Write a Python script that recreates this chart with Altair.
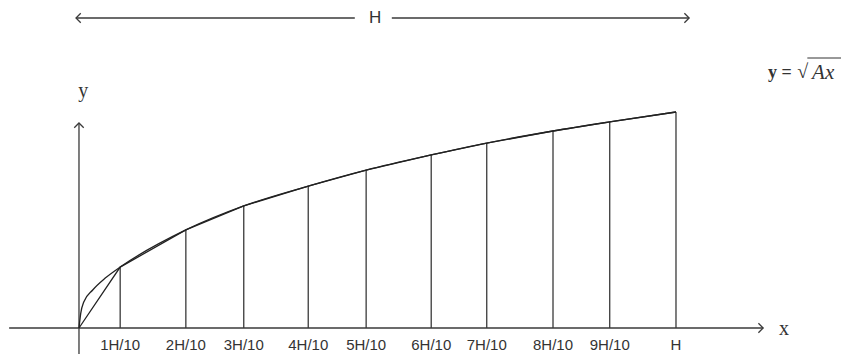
import altair as alt
import pandas as pd

# ---- values ----
labels = ["1H/10", "2H/10", "3H/10", "4H/10", "5H/10", "6H/10", "7H/10", "8H/10", "9H/10", "H"]
x_pos = [0.69, 1.79, 2.76, 3.84, 4.81, 5.90, 6.83, 7.94, 8.89, 10.0]
heights = [2.82, 4.54, 5.65, 6.57, 7.31, 8.01, 8.56, 9.12, 9.54, 10.0]
curve_x = [0.0, 0.03, 0.08, 0.23, 0.44]
curve_y = [0.0, 0.69, 1.20, 1.76, 2.31]

# ---- tables ----
cols = pd.DataFrame({"x": x_pos, "top": heights, "base": [0.0] * len(x_pos), "label": labels})
chords = pd.DataFrame({"x": [0.0] + x_pos, "y": [0.0] + heights})
curve = pd.DataFrame({"x": curve_x + x_pos, "y": curve_y + heights})

X = alt.Scale(domain=[-1.189, 12.764], nice=False, zero=False)
Y = alt.Scale(domain=[-1.204, 14.815], nice=False, zero=False)
INK = "#222222"
GREY = "#3a3a3a"


def seg(x1, x2, y1, y2, color=GREY, w=1.3):
    d = pd.DataFrame({"x": [x1], "x2": [x2], "y": [y1], "y2": [y2]})
    return alt.Chart(d).mark_rule(color=color, strokeWidth=w).encode(
        x=alt.X("x:Q", scale=X, axis=None), x2="x2:Q",
        y=alt.Y("y:Q", scale=Y, axis=None), y2="y2:Q")


def head(x, y, angle):
    d = pd.DataFrame({"x": [x], "y": [y]})
    return alt.Chart(d).mark_point(shape="M-1,-1L0,0L-1,1", size=90, filled=False,
                                   color=GREY, strokeWidth=1.3, angle=angle, opacity=1).encode(
        x=alt.X("x:Q", scale=X, axis=None), y=alt.Y("y:Q", scale=Y, axis=None))


def txt(x, y, s, size, font, align="center", style="normal", weight="normal"):
    d = pd.DataFrame({"x": [x], "y": [y], "t": [s]})
    return alt.Chart(d).mark_text(fontSize=size, font=font, align=align, baseline="middle",
                                  fontStyle=style, fontWeight=weight, color="#333333").encode(
        x=alt.X("x:Q", scale=X, axis=None), y=alt.Y("y:Q", scale=Y, axis=None), text="t:N")


verticals = alt.Chart(cols).mark_rule(color=GREY, strokeWidth=1.3).encode(
    x=alt.X("x:Q", scale=X, axis=None),
    y=alt.Y("base:Q", scale=Y, axis=None), y2="top:Q")

chord_line = alt.Chart(chords).mark_line(color=INK, strokeWidth=1.3).encode(
    x=alt.X("x:Q", scale=X, axis=None), y=alt.Y("y:Q", scale=Y, axis=None), order="x:Q")

curve_line = alt.Chart(curve).mark_line(color=INK, strokeWidth=1.3, interpolate="monotone").encode(
    x=alt.X("x:Q", scale=X, axis=None), y=alt.Y("y:Q", scale=Y, axis=None), order="x:Q")

tick_labels = alt.Chart(cols).mark_text(fontSize=15, font="Liberation Sans", baseline="alphabetic",
                                        color="#333333").encode(
    x=alt.X("x:Q", scale=X, axis=None),
    y=alt.Y("lab_y:Q", scale=Y, axis=None), text="label:N").transform_calculate(lab_y="-1.04")

layers = [
    seg(-1.17, 11.46, 0, 0),                 # x axis
    head(11.46, 0, 0),
    seg(0, 0, -1.2, 9.49),                   # y axis
    head(0, 9.49, 270),
    verticals, chord_line, curve_line, tick_labels,
    txt(0.07, 10.97, "y", 20, "Liberation Serif"),
    txt(11.81, -0.05, "x", 20, "Liberation Serif"),
    seg(-0.05, 4.62, 14.35, 14.35, w=1.5),   # H span arrow
    head(-0.05, 14.35, 180),
    seg(5.24, 10.22, 14.35, 14.35, w=1.5),
    head(10.22, 14.35, 0),
    txt(4.96, 14.35, "H", 17, "Liberation Sans"),
    txt(11.54, 11.81, "y =", 18, "Liberation Serif", align="left", weight="bold"),
    txt(12.03, 11.85, "\u221a", 20, "Liberation Serif", align="left"),
    txt(12.28, 11.81, "Ax", 21, "Liberation Serif", align="left", style="italic"),
    seg(12.2, 12.83, 12.5, 12.5, color="#333333", w=1.0),
]

chart = alt.layer(*layers).properties(
    width=833, height=346, padding=0, autosize=alt.AutoSizeParams(type="none")
).configure_view(strokeWidth=0)

chart.save("out.html", embed_options={"renderer": "svg", "actions": False})
